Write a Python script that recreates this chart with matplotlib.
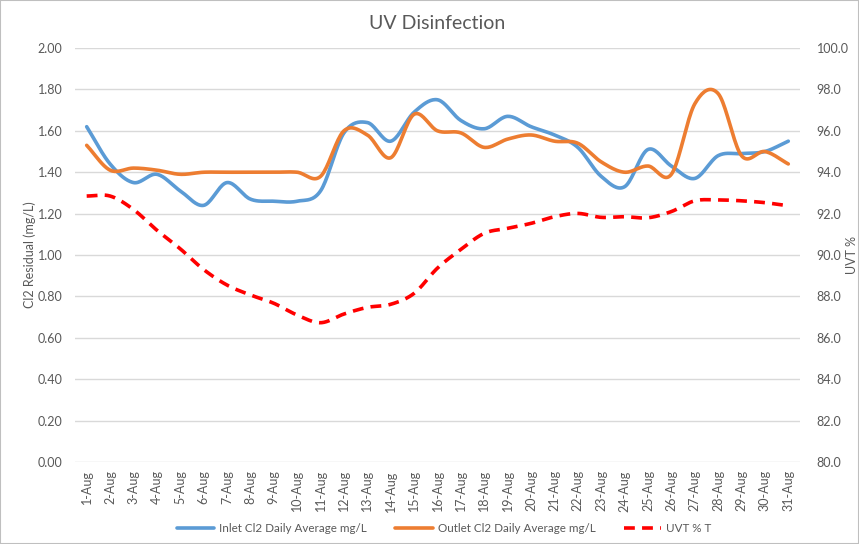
import numpy as np
import matplotlib
matplotlib.use("Agg")
import matplotlib.pyplot as plt
from matplotlib.patches import Rectangle

plt.rcParams['font.family'] = ['Lato', 'DejaVu Sans']

days = [f"{d}-Aug" for d in range(1, 32)]

inlet = [1.62, 1.44, 1.35, 1.39, 1.31, 1.24, 1.35, 1.27, 1.26, 1.26,
         1.31, 1.59, 1.64, 1.55, 1.69, 1.75, 1.65, 1.61, 1.67, 1.62,
         1.58, 1.52, 1.38, 1.33, 1.51, 1.43, 1.37, 1.48, 1.49, 1.50,
         1.55]

outlet = [1.53, 1.41, 1.42, 1.41, 1.39, 1.40, 1.40, 1.40, 1.40, 1.40,
          1.38, 1.60, 1.58, 1.47, 1.68, 1.60, 1.59, 1.52, 1.56, 1.58,
          1.55, 1.54, 1.45, 1.40, 1.43, 1.39, 1.73, 1.78, 1.48, 1.50,
          1.44]

uvt = [92.85, 92.85, 92.2, 91.2, 90.3, 89.3, 88.55, 88.07, 87.67, 87.1,
       86.73, 87.15, 87.47, 87.62, 88.15, 89.37, 90.27, 91.05, 91.29, 91.53,
       91.85, 92.01, 91.82, 91.85, 91.8, 92.1, 92.62, 92.66, 92.62, 92.53,
       92.38]


def smooth(x, y, n=20):
    # Catmull-Rom curve through the points, like Excel's smoothed line
    x = np.asarray(x, float)
    y = np.asarray(y, float)
    px = np.concatenate([[2 * x[0] - x[1]], x, [2 * x[-1] - x[-2]]])
    py = np.concatenate([[2 * y[0] - y[1]], y, [2 * y[-1] - y[-2]]])
    xs, ys = [], []
    t = np.linspace(0, 1, n, endpoint=False)
    for i in range(1, len(px) - 2):
        for arr, out in ((px, xs), (py, ys)):
            p0, p1, p2, p3 = arr[i - 1], arr[i], arr[i + 1], arr[i + 2]
            out.extend(0.5 * (2 * p1 + (-p0 + p2) * t
                              + (2 * p0 - 5 * p1 + 4 * p2 - p3) * t ** 2
                              + (-p0 + 3 * p1 - 3 * p2 + p3) * t ** 3))
    xs.append(x[-1])
    ys.append(y[-1])
    return np.array(xs), np.array(ys)


grey = '#595959'
x = np.arange(len(days))

fig = plt.figure(figsize=(8.59, 5.44), dpi=100)
ax = fig.add_axes([0.0873, 0.1507, 0.844, 0.761])
ax2 = ax.twinx()

sx, sy = smooth(x, inlet)
l1, = ax.plot(sx, sy, color='#5B9BD5', lw=2.6, solid_capstyle='round',
              label='Inlet Cl2 Daily Average mg/L')
sx, sy = smooth(x, outlet)
l2, = ax.plot(sx, sy, color='#ED7D31', lw=2.6, solid_capstyle='round',
              label='Outlet Cl2 Daily Average mg/L')
sx, sy = smooth(x, uvt)
l3, = ax2.plot(sx, sy, color='#FF0000', lw=2.6, dashes=(3, 2),
               label='UVT % T')

ax.set_xlim(-0.5, len(days) - 0.5)
ax.set_ylim(0, 2.0)
ax.set_yticks(np.arange(0, 2.01, 0.2))
ax.set_yticklabels([f"{v:.2f}" for v in np.arange(0, 2.01, 0.2)])
ax2.set_ylim(80, 100)
ax2.set_yticks(np.arange(80, 100.1, 2))
ax2.set_yticklabels([f"{v:.1f}" for v in np.arange(80, 100.1, 2)])

ax.set_xticks(x)
ax.set_xticklabels(days, rotation=90)

ax.grid(axis='y', color='#d9d9d9', lw=1)
ax.set_axisbelow(True)
for a in (ax, ax2):
    for s in a.spines.values():
        s.set_visible(False)
    a.tick_params(length=0, colors=grey, labelsize=9)
ax.tick_params(axis='y', pad=9)
ax2.tick_params(axis='y', pad=12)
ax.tick_params(axis='x', pad=6)

ax.set_ylabel('Cl2 Residual (mg/L)', color=grey, fontsize=9)
ax.yaxis.set_label_coords(-0.054, 0.5)
ax2.set_ylabel('UVT %', color=grey, fontsize=9)
ax2.yaxis.set_label_coords(1.064, 0.5)
ax.set_title('UV Disinfection', color=grey, fontsize=14, pad=14)

fig.legend(handles=[l1, l2, l3], loc='center', bbox_to_anchor=(0.517, 0.029),
           ncol=3, frameon=False, fontsize=8.4, handlelength=3.2,
           handletextpad=0.45, columnspacing=2.4, labelcolor=grey)

fig.patches.append(Rectangle((0, 0), 1, 1, transform=fig.transFigure,
                             fill=False, edgecolor='#bfbfbf', lw=1.5))

fig.savefig('out.png', dpi=100)
